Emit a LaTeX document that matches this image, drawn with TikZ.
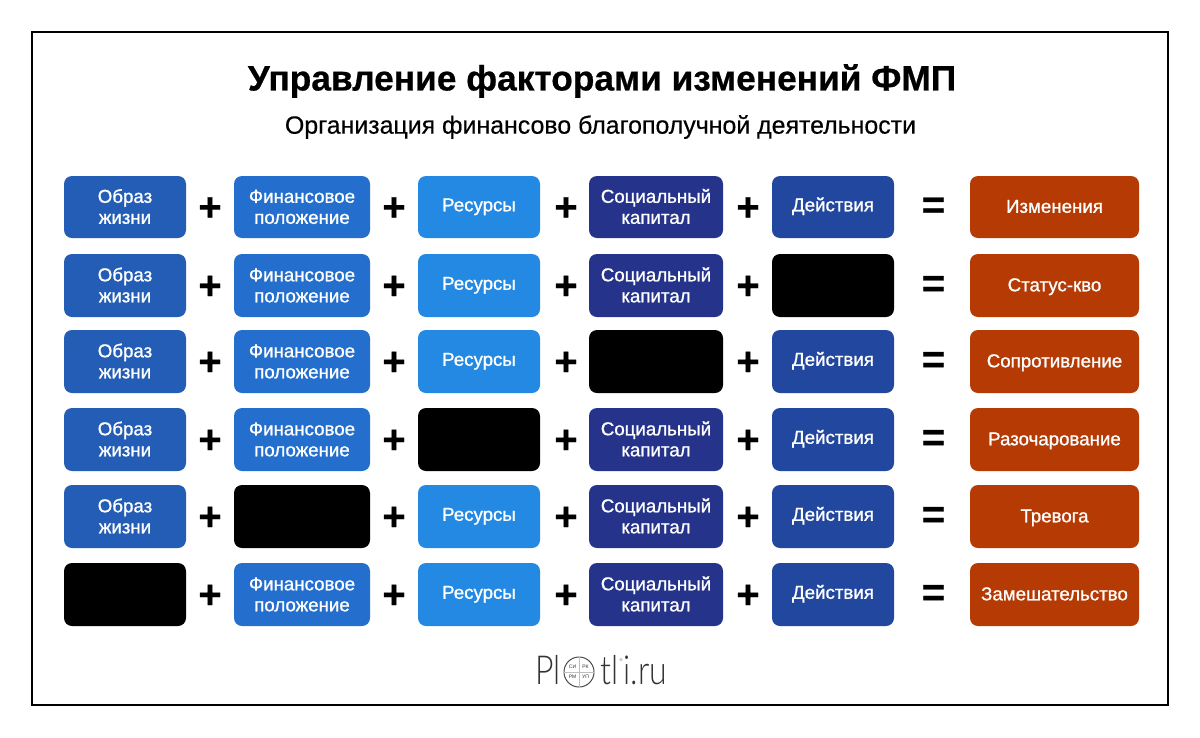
\documentclass[tikz,border=0pt]{standalone}
\usepackage{fontspec}
\setmainfont{Liberation Sans}
\newfontfamily\logofont[FakeStretch=0.8]{Lato Light}
\newfontfamily\tilefont[FakeBold=1]{Liberation Sans}
\newfontfamily\subfont[FakeBold=0.4]{Liberation Sans}
\newfontfamily\headfont[FakeBold=0.6]{Liberation Sans Bold}
\definecolor{cA}{HTML}{245DB5}
\definecolor{cB}{HTML}{246FCE}
\definecolor{cC}{HTML}{2389E3}
\definecolor{cD}{HTML}{25348A}
\definecolor{cE}{HTML}{22479E}
\definecolor{cR}{HTML}{B53A04}
\tikzset{
  x=1pt,y=-1pt,
  tile/.style={rounded corners=8pt,inner sep=0pt,outer sep=0pt,text=white,align=center,
    font=\fontsize{18.7}{21.5}\tilefont,minimum height=#1},
  oper/.style={inner sep=0pt,font=\fontsize{40}{40}\headfont},
  logotext/.style={inner sep=0pt,anchor=base west,text=black!80,font=\fontsize{40}{40}\logofont},
  tiny/.style={inner sep=0pt,font=\fontsize{5}{5}\selectfont,text=black!80},
}
\newcommand{\tilebox}[8]{% name, x0, x1, ytop, ybottom, colour, text, text shift
  \node[tile=#5pt-#4pt,fill=#6,minimum width=#3pt-#2pt] (#1) at ({(#2+#3)/2},{(#4+#5)/2}) {\raisebox{#8pt}[\height][\depth]{\begin{tabular}{@{}c@{}}#7\end{tabular}}};
}
\begin{document}
\begin{tikzpicture}
\useasboundingbox (0,0) rectangle (1200,737);
\fill[white] (0,0) rectangle (1200,737);
\draw[black,line width=2pt] (32,32) rectangle (1168,705);
\node[inner sep=0pt,font=\fontsize{35.3}{40}\headfont] (title) at (602,81) {Управление факторами изменений ФМП};
\node[inner sep=0pt,font=\fontsize{24.9}{28}\subfont] (subtitle) at (600.5,127) {Организация финансово благополучной деятельности};
\foreach \n/\yt/\yb/\blk/\res in {1/176/238/0/Изменения,2/254/317/5/Статус-кво,3/330/393/4/Сопротивление,4/408/471/3/Разочарование,5/485/548/2/Тревога,6/563/626/1/Замешательство}{
  \pgfmathsetmacro{\ym}{(\yt+\yb)/2}
  \ifnum\blk=1 \tilebox{a\n}{64}{186}{\yt}{\yb}{black}{}{0}\else\tilebox{a\n}{64}{186}{\yt}{\yb}{cA}{Образ\\[-.5pt]жизни}{-2}\fi
  \ifnum\blk=2 \tilebox{b\n}{234}{370}{\yt}{\yb}{black}{}{0}\else\tilebox{b\n}{234}{370}{\yt}{\yb}{cB}{Финансовое\\[-.5pt]положение}{-2}\fi
  \ifnum\blk=3 \tilebox{c\n}{418}{540}{\yt}{\yb}{black}{}{0}\else\tilebox{c\n}{418}{540}{\yt}{\yb}{cC}{Ресурсы}{0}\fi
  \ifnum\blk=4 \tilebox{d\n}{589}{723}{\yt}{\yb}{black}{}{0}\else\tilebox{d\n}{589}{723}{\yt}{\yb}{cD}{Социальный\\[-.5pt]капитал}{-2}\fi
  \ifnum\blk=5 \tilebox{e\n}{772}{894}{\yt}{\yb}{black}{}{0}\else\tilebox{e\n}{772}{894}{\yt}{\yb}{cE}{Действия}{0}\fi
  \tilebox{r\n}{970}{1139}{\yt}{\yb}{cR}{\res}{-1.5}
  \node[oper] (pa\n) at (210,\ym+2) {+};
  \node[oper] (pb\n) at (394,\ym+2) {+};
  \node[oper] (pc\n) at (566,\ym+2) {+};
  \node[oper] (pd\n) at (748,\ym+2) {+};
  \node[oper] (eq\n) at (933.5,\ym+1) {=};
}
% logo
\node[logotext] (logoa) at (535,684) {Pl};
\node[draw=black!70,line width=1pt,circle,minimum size=30pt,inner sep=0pt] (logoc) at (579,672) {};
\draw[black!25,line width=.4pt] (logoc.north) -- (logoc.south) (logoc.west) -- (logoc.east);
\node[tiny] (l1) at (572.5,666.5) {СИ};
\node[tiny] (l2) at (585.5,666.5) {РК};
\node[tiny] (l3) at (572.5,677) {РМ};
\node[tiny] (l4) at (585.5,677) {УП};
\node[logotext] (logob) at (600,684) {tl};
\node[logotext] (logod) at (623.5,684) {i.ru};
\node[inner sep=0pt,font=\fontsize{4}{4}\selectfont,text=black!60] (logor) at (621,660) {®};
\end{tikzpicture}
\end{document}
